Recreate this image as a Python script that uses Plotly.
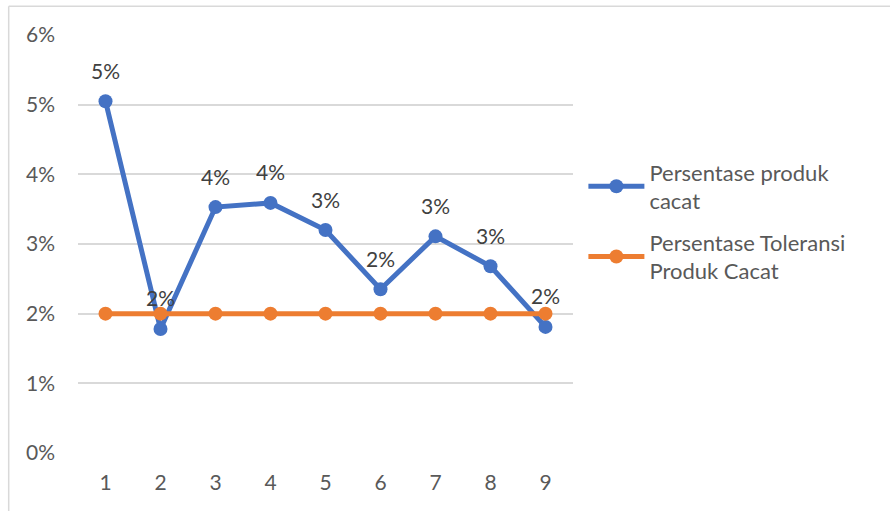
import plotly.graph_objects as go

categories = [1, 2, 3, 4, 5, 6, 7, 8, 9]
defect_pct = [0.0505, 0.0178, 0.0353, 0.0359, 0.0320, 0.0235, 0.0311, 0.0268, 0.0181]
tolerance_pct = [0.02, 0.02, 0.02, 0.02, 0.02, 0.02, 0.02, 0.02, 0.02]
y_ticks = [0, 0.01, 0.02, 0.03, 0.04, 0.05, 0.06]
series_names = ["Persentase produk<br>cacat", "Persentase Toleransi<br>Produk Cacat"]

FONT = "Lato"
BLUE = "#4472C4"
ORANGE = "#ED7D31"

fig = go.Figure()
fig.add_trace(go.Scatter(
    x=categories, y=defect_pct, name=series_names[0], mode="lines+markers",
    legendgroup="a",
    line=dict(color=BLUE, width=5), marker=dict(color=BLUE, size=14),
))
fig.add_trace(go.Scatter(
    x=categories, y=tolerance_pct, name=series_names[1], mode="lines+markers",
    legendgroup="b",
    line=dict(color=ORANGE, width=5), marker=dict(color=ORANGE, size=14),
))

for xv, yv in zip(categories, defect_pct):
    fig.add_annotation(x=xv, y=yv, text=f"{round(yv*100):.0f}%", showarrow=False,
                       yshift=31, font=dict(family=FONT, size=21, color="#404040"))

# chart border (left and top visible)
fig.add_shape(type="line", xref="paper", yref="paper", x0=-0.140, x1=-0.140, y0=-0.2, y1=1.069,
              line=dict(color="#D9D9D9", width=1.5))
fig.add_shape(type="line", xref="paper", yref="paper", x0=-0.140, x1=1.7, y0=1.069, y1=1.069,
              line=dict(color="#D9D9D9", width=1.5))

fig.update_layout(
    width=890, height=511,
    margin=dict(l=77.5, r=316.5, t=35, b=58),
    paper_bgcolor="white", plot_bgcolor="white",
    font=dict(family=FONT, size=21, color="#595959"),
    showlegend=True,
    legend=dict(x=1.021, y=0.722, xanchor="left", yanchor="top",
                font=dict(family=FONT, size=22, color="#595959"),
                itemwidth=56, traceorder="grouped", tracegroupgap=10,
                bgcolor="rgba(0,0,0,0)"),
    xaxis=dict(range=[0.5, 9.5], tickmode="array", tickvals=categories,
               ticktext=[str(c) for c in categories], showgrid=False, zeroline=False,
               showline=False, ticks="", ticklabelstandoff=15,
               tickfont=dict(family=FONT, size=21, color="#595959")),
    yaxis=dict(range=[0, 0.06], tickmode="array", tickvals=y_ticks,
               ticktext=[f"{round(v*100)}%" for v in y_ticks],
               showgrid=True, gridcolor="#D9D9D9", gridwidth=1.5, zeroline=False,
               showline=False, ticks="", ticklabelstandoff=22,
               tickfont=dict(family=FONT, size=21, color="#595959")),
)

fig.write_html("out.html")
